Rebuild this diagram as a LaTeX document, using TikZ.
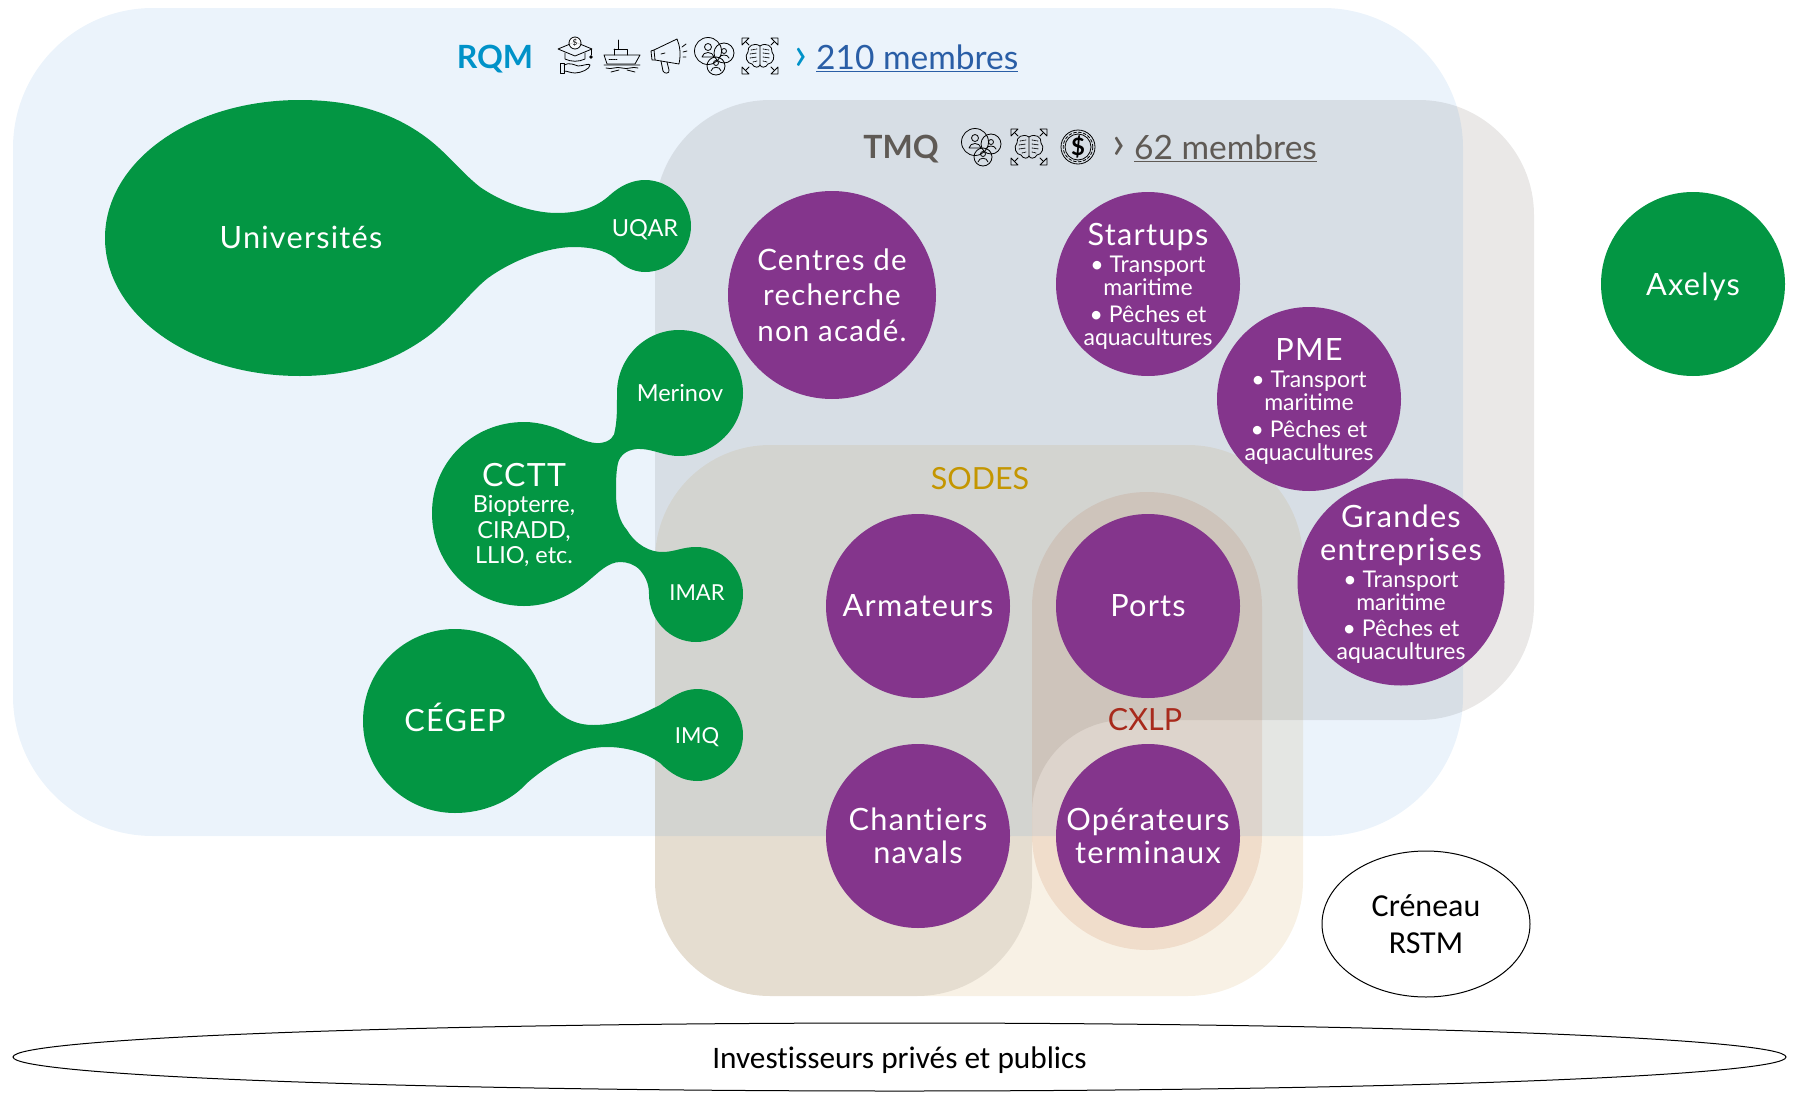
\documentclass[tikz,border=0pt]{standalone}
\usepackage{fontspec}
\setmainfont{Lato}
\newfontfamily\spacedfont[LetterSpace=4,Ligatures=NoCommon]{Lato}
\newfontfamily\blackfont[Ligatures=NoCommon]{Carlito}
\usetikzlibrary{shapes.geometric}
\definecolor{rqmfill}{RGB}{55,135,215}
\definecolor{tmqfill}{RGB}{148,140,135}
\definecolor{sodesfill}{RGB}{197,140,41}
\definecolor{cxlpfill}{RGB}{183,75,15}
\definecolor{blobgreen}{RGB}{3,150,67}
\definecolor{circpurple}{RGB}{132,53,140}
\definecolor{rqmblue}{RGB}{0,146,200}
\definecolor{linkblue}{RGB}{42,94,166}
\definecolor{tmqgrey}{RGB}{95,90,85}
\definecolor{sodesgold}{RGB}{196,150,0}
\definecolor{cxlpred}{RGB}{168,42,28}
\newcommand{\titlefnt}{\spacedfont\fontsize{30.7}{33}\selectfont}
\tikzset{
  purplecirc/.style={shape=circle,fill=circpurple,text=white,minimum size=184pt,inner sep=0pt,align=center,font=\titlefnt},
  circtext/.style={text=white,inner sep=0pt,align=center,font=\fontsize{23}{23}\selectfont},
  greenlabel/.style={text=white,inner sep=0pt,align=center,font=\fontsize{23.5}{25.5}\selectfont},
  greenbig/.style={text=white,inner sep=0pt,align=center,font=\titlefnt},
  grouplabel/.style={inner sep=0pt,font=\fontsize{30.5}{32}\selectfont},
  headlabel/.style={inner sep=0pt,anchor=west,font=\fontsize{33.5}{36}\selectfont},
  marklabel/.style={inner sep=0pt,font=\fontsize{46}{46}\selectfont},
  blackoval/.style={shape=ellipse,draw=black,line width=1pt,inner sep=0pt,align=center,text=black},
  icon/.style={line width=0.8pt,draw=black,line cap=round,line join=round},
  groupicon/.pic={
    \draw[icon] (-6,-5) circle (13.5);
    \draw[icon] (10,-3) circle (10);
    \draw[icon] (2,10) circle (9);
    \draw[icon] (-6,-9) circle (3.5);
    \draw[icon] (-12,1) .. controls (-11,-5) and (-1,-5) .. (0,1) -- cycle;
    \draw[icon] (10,-5) circle (2.5);
    \draw[icon] (5,2) .. controls (6,-2) and (14,-2) .. (15,2);
    \draw[icon] (2,7) circle (2.5);
    \draw[icon] (-3,15) .. controls (-2,10) and (6,10) .. (7,15);
  },
  brainicon/.pic={
    \draw[icon] (0,-10) .. controls (-6,-14) and (-13,-10) .. (-12,-4) .. controls (-16,0) and (-13,8) .. (-8,8) .. controls (-6,12) and (-1,12) .. (0,9) -- cycle;
    \draw[icon] (0,-10) .. controls (6,-14) and (13,-10) .. (12,-4) .. controls (16,0) and (13,8) .. (8,8) .. controls (6,12) and (1,12) .. (0,9);
    \draw[icon,densely dotted] (-9,-6) -- (-3,-7) (-10,-2) -- (-3,-3) (-10,2) -- (-3,1) (-7,6) -- (-3,5) (3,-7) -- (9,-6) (3,-3) -- (10,-2) (3,1) -- (10,2) (3,5) -- (7,6);
    \foreach \sx/\sy in {-1/-1,1/-1,-1/1,1/1} {
      \draw[icon] (\sx*11,\sy*11) -- (\sx*14,\sy*14);
      \draw[icon] (\sx*18,\sy*11) -- (\sx*18,\sy*18) -- (\sx*11,\sy*18) -- cycle;
    }
  },
  dollaricon/.pic={
    \draw[icon] (0,0) circle (17);
    \draw[icon,densely dashed] (0,0) circle (14.8);
    \draw[icon] (0,0) circle (13);
    \node[inner sep=0pt,text=black] (dollarsign) at (0,0) {\fontsize{24}{24}\selectfont\bfseries\$};
  },
  gradicon/.pic={
    \draw[icon] (0,-14) -- (-17,-7) -- (0,0) -- (17,-7) -- cycle;
    \draw[icon] (-10,-3) -- (-10,3) .. controls (-4,6) and (4,6) .. (10,3) -- (10,-3);
    \draw[icon] (16,-7) -- (16,-1);
    \fill[black] (16,1) circle (1.8);
    \draw[icon,fill=white,fill opacity=0.85] (0,-13) circle (6);
    \node[inner sep=0pt,text=black] (gradcoin) at (0,-13) {\fontsize{8}{8}\selectfont\$};
    \draw[icon] (-15,7) rectangle (-11,17);
    \draw[icon] (-11,9) .. controls (-6,6) and (0,9) .. (3,10) .. controls (8,10) and (14,7) .. (15,9) .. controls (15,13) and (6,17) .. (0,17) .. controls (-4,17) and (-8,15) .. (-11,15);
  },
  shipicon/.pic={
    \draw[icon] (-4,-16) -- (-4,-7);
    \draw[icon] (-8,-7) -- (-8,-1) (-8,-7) -- (5,-7) -- (5,-1);
    \draw[icon] (-18,-1) -- (12,-1) -- (18,-1) -- (13,8) -- (-15,8) -- cycle;
    \draw[icon,densely dotted] (-13,3) -- (-5,3);
    \draw[icon] (-18,9) -- (18,9) (-16,12) .. controls (-10,14) and (-6,10) .. (0,12) .. controls (6,14) and (10,10) .. (16,12);
    \draw[icon] (-11,16) -- (-3,14) (5,14) -- (13,16);
  },
  megaicon/.pic={
    \draw[icon] (-14,-6) -- (9,-17) .. controls (12,-10) and (13,-2) .. (11,8) -- (-13,4) -- cycle;
    \draw[icon] (-14,-6) -- (-17,-5) -- (-16,4) -- (-13,4);
    \draw[icon] (-7,5) -- (-5,15) .. controls (-4,18) and (2,18) .. (1,14) -- (-1,6);
    \draw[icon] (-7,-2) -- (-3,-3);
    \draw[icon] (14,-9) -- (18,-12) (15,-4) -- (19,-5) (15,1) -- (18,1);
  },
}
\begin{document}
\begin{tikzpicture}[x=1pt,y=-1pt]
  \useasboundingbox (0,0) rectangle (1797,1095);
  % zones
  \fill[tmqfill,opacity=0.2,rounded corners=115pt] (655,100) -- (1534,100) -- (1534,720) [rounded corners=93pt] -- (1032,720) [rounded corners=115pt] -- (1032,996) -- (655,996) -- cycle;
  \fill[sodesfill,opacity=0.12,rounded corners=115pt] (655,445) -- (1303,445) -- (1303,996) -- (655,996) -- cycle;
  \fill[cxlpfill,opacity=0.12,rounded corners=114.9pt] (1032,492) -- (1262,492) -- (1262,950) -- (1032,950) -- cycle;
  \fill[rqmfill,opacity=0.1,rounded corners=140pt] (13,8) -- (1463,8) -- (1463,836) -- (13,836) -- cycle;

  % green shapes
  \fill[blobgreen] (300,100) .. controls (355,100) and (395,114) .. (427,138) .. controls (447,153) and (462,173) .. (480,187) .. controls (500,201) and (530,213) .. (557,213) .. controls (580,213) and (597,207) .. (610,195) .. controls (620,186) and (632,180) .. (645,180) .. controls (670,180) and (691,201) .. (691,226) .. controls (691,251) and (670,272) .. (645,272) .. controls (632,272) and (622,265) .. (615,258) .. controls (605,250) and (590,247) .. (574,247) .. controls (545,247) and (510,262) .. (488,278) .. controls (470,292) and (450,320) .. (427,337) .. controls (395,360) and (355,376) .. (300,376) .. controls (190,376) and (105,314) .. (105,238) .. controls (105,162) and (190,100) .. (300,100) -- cycle;
  \fill[blobgreen] (524,422) .. controls (540,422) and (555,427) .. (567,433) .. controls (578,438) and (590,444) .. (600,443) .. controls (610,442) and (615,436) .. (615,430) .. controls (617,420) and (617,410) .. (617,393) .. controls (617,358) and (645,330) .. (679,330) .. controls (714,330) and (743,358) .. (743,393) .. controls (743,428) and (714,456) .. (679,456) .. controls (665,456) and (655,450) .. (642,449) .. controls (628,448) and (620,455) .. (618,463) .. controls (616,472) and (616,482) .. (616,493) .. controls (616,510) and (620,522) .. (627,530) .. controls (636,545) and (650,552) .. (662,552) .. controls (675,552) and (682,547) .. (696,547) .. controls (722,547) and (743,568) .. (743,594) .. controls (743,620) and (722,642) .. (696,642) .. controls (670,642) and (649,620) .. (649,594) .. controls (649,582) and (644,575) .. (640,570) .. controls (634,564) and (627,562) .. (620,562) .. controls (608,562) and (598,573) .. (587,582) .. controls (570,596) and (548,606) .. (524,606) .. controls (473,606) and (432,565) .. (432,513) .. controls (432,462) and (473,422) .. (524,422) -- cycle;
  \fill[blobgreen] (455,629) .. controls (495,629) and (528,655) .. (540,687) .. controls (544,695) and (548,702) .. (553,707) .. controls (565,720) and (578,725) .. (593,725) .. controls (620,725) and (640,715) .. (660,705) .. controls (672,697) and (683,689) .. (697,689) .. controls (722,689) and (743,710) .. (743,735) .. controls (743,760) and (722,781) .. (697,781) .. controls (682,781) and (670,773) .. (660,763) .. controls (645,752) and (625,747) .. (607,747) .. controls (575,747) and (548,765) .. (527,783) .. controls (510,802) and (483,813) .. (455,813) .. controls (404,813) and (363,772) .. (363,721) .. controls (363,670) and (404,629) .. (455,629) -- cycle;

  % green labels
  \node[greenbig] (univ) at (301,237) {Universités};
  \node[greenlabel,text depth=0pt] (uqar) at (645,228) {UQAR};
  \node[greenlabel] (merinov) at (680,393) {Merinov};
  \node[greenlabel,font=\fontsize{22}{25}\selectfont] (imar) at (697,593) {IMAR};
  \node[greenlabel,font=\fontsize{22}{25}\selectfont,text depth=0pt] (imq) at (697,736) {IMQ};
  \node[greenbig] (cegep) at (455,717) {CÉGEP};
  \node[greenlabel] (cctt) at (524,515) {{\spacedfont\fontsize{32}{32}\selectfont CCTT}\\[1pt]Biopterre,\\CIRADD,\\LLIO, etc.};
  \node[purplecirc,fill=blobgreen,text depth=0pt] (axelys) at (1693,284) {Axelys};

  % purple circles
  \node[purplecirc,minimum size=208pt] (centres) at (832,295) {};
  \node[circtext,font=\spacedfont\fontsize{29.5}{35.5}\selectfont] (centrestxt) at (832,295) {Centres de\\recherche\\non acadé.};
  \node[purplecirc] (startups) at (1148,284) {};
  \node[circtext] (startupstxt) at (1148,286.5) {{\titlefnt Startups}\\[4pt]• Transport\\maritime\\[3.5pt]• Pêches et\\aquacultures};
  \node[purplecirc] (pme) at (1309,399) {};
  \node[circtext] (pmetxt) at (1309,401.5) {{\titlefnt PME}\\[4pt]• Transport\\maritime\\[3.5pt]• Pêches et\\aquacultures};
  \node[purplecirc,minimum size=207pt] (grandes) at (1401,582) {};
  \node[circtext] (grandestxt) at (1401,584) {{\titlefnt Grandes}\\[10pt]{\titlefnt entreprises}\\[4pt]• Transport\\maritime\\[3.5pt]• Pêches et\\aquacultures};
  \node[purplecirc] (armateurs) at (918,606) {Armateurs};
  \node[purplecirc] (ports) at (1148,606) {Ports};
  \node[purplecirc] (chantiers) at (918,836) {Chantiers\\navals};
  \node[purplecirc] (operateurs) at (1148,836) {Opérateurs\\terminaux};

  % zone titles
  \node[inner sep=0pt,text=rqmblue,font=\fontsize{32}{36}\selectfont\bfseries] (rqm) at (495,59) {RQM};
  \node[marklabel,text=rqmblue] (rqmmark) at (801,59) {›};
  \node[headlabel,text=linkblue] (rqmcount) at (816,58) {\underline{210 membres}};
  \node[inner sep=0pt,text=tmqgrey,font=\fontsize{32}{36}\selectfont\bfseries] (tmq) at (901,149) {TMQ};
  \node[marklabel,text=tmqgrey] (tmqmark) at (1119,148) {›};
  \node[headlabel,text=tmqgrey] (tmqcount) at (1134,148) {\underline{62 membres}};
  \node[grouplabel,text=sodesgold] (sodes) at (980,479) {SODES};
  \node[grouplabel,text=cxlpred] (cxlp) at (1145,720) {CXLP};

  % icons
  \pic at (575,56) {gradicon};
  \pic at (622,56) {shipicon};
  \pic at (668,56) {megaicon};
  \pic at (714,56) {groupicon};
  \pic at (760,56) {brainicon};
  \pic at (981,147) {groupicon};
  \pic at (1029,147) {brainicon};
  \pic at (1078,147) {dollaricon};

  % outlined ovals
  \node[blackoval,minimum width=208pt,minimum height=146pt,font=\blackfont\fontsize{32}{37}\selectfont] (creneau) at (1426,924) {Créneau\\RSTM};
  \node[blackoval,minimum width=1773pt,minimum height=68pt,font=\blackfont\fontsize{31.3}{36}\selectfont] (invest) at (899.5,1057) {\rule{0pt}{29pt}Investisseurs privés et publics};
\end{tikzpicture}
\end{document}
